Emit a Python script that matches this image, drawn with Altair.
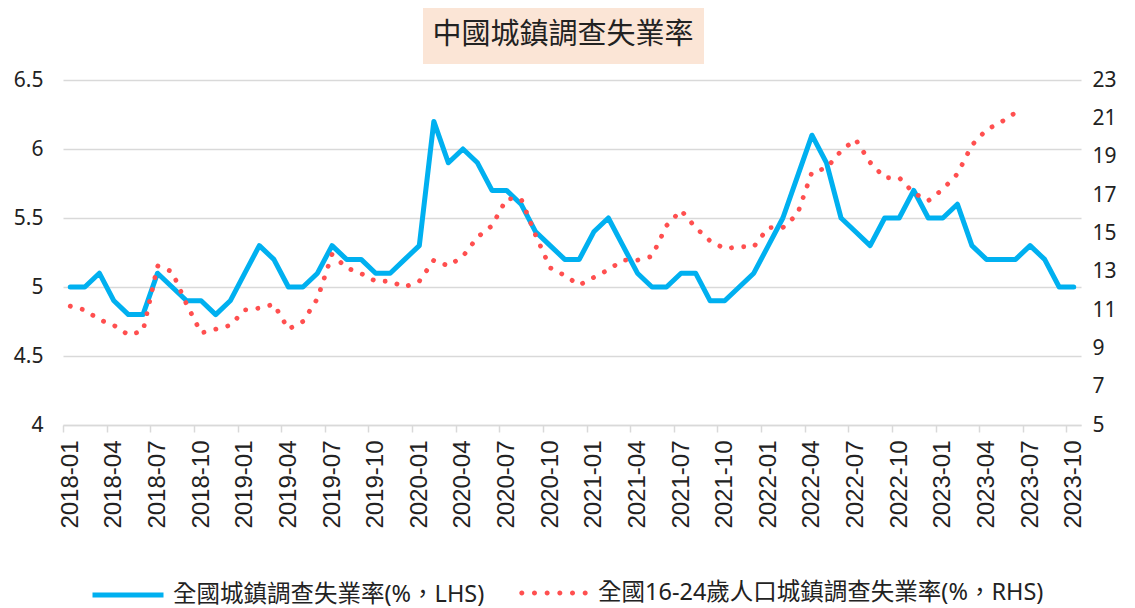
import altair as alt
import pandas as pd

months = [f"{y}-{m:02d}" for y in range(2018, 2024) for m in range(1, 13)][:70]

national = [
    5.0, 5.0, 5.1, 4.9, 4.8, 4.8, 5.1, 5.0, 4.9, 4.9, 4.8, 4.9,
    5.1, 5.3, 5.2, 5.0, 5.0, 5.1, 5.3, 5.2, 5.2, 5.1, 5.1, 5.2,
    5.3, 6.2, 5.9, 6.0, 5.9, 5.7, 5.7, 5.6, 5.4, 5.3, 5.2, 5.2,
    5.4, 5.5, 5.3, 5.1, 5.0, 5.0, 5.1, 5.1, 4.9, 4.9, 5.0, 5.1,
    5.3, 5.5, 5.8, 6.1, 5.9, 5.5, 5.4, 5.3, 5.5, 5.5, 5.7, 5.5,
    5.5, 5.6, 5.3, 5.2, 5.2, 5.2, 5.3, 5.2, 5.0, 5.0,
]

youth = [
    11.2, 11.0, 10.5, 10.2, 9.7, 9.9, 13.3, 13.0, 11.3, 9.8, 10.0, 10.2,
    11.0, 11.1, 11.3, 10.0, 10.4, 11.6, 13.9, 13.2, 12.9, 12.5, 12.5, 12.2,
    12.5, 13.6, 13.3, 13.8, 14.8, 15.4, 16.8, 16.8, 14.9, 13.2, 12.8, 12.3,
    12.7, 13.1, 13.6, 13.6, 13.8, 15.4, 16.2, 15.3, 14.6, 14.2, 14.3, 14.3,
    15.3, 15.3, 16.0, 18.2, 18.4, 19.3, 19.9, 18.7, 17.9, 17.9, 17.1, 16.7,
    17.3, 18.1, 19.6, 20.4, 20.8, 21.3, None, None, None, None,
]

tick_months = months[::3]
left_ticks = [4, 4.5, 5, 5.5, 6, 6.5]
right_ticks = [5, 7, 9, 11, 13, 15, 17, 19, 21, 23]

title_text = "中國城鎮調查失業率"
s1 = "全國城鎮調查失業率(%，LHS)"
s2 = "全國16-24歲人口城鎮調查失業率(%，RHS)"

rows = []
for m, v in zip(months, national):
    rows.append({"month": m, "series": s1, "value": v})
for m, v in zip(months, youth):
    if v is not None:
        rows.append({"month": m, "series": s2, "value": v})
df = pd.DataFrame(rows)

W, H = 1018, 345
step = W / len(months)
FONT = "Noto Sans, Noto Sans CJK TC"
XFONT = "Liberation Sans, Arial"
TXT = "#222222"
GRID = "#D9D9D9"
BLUE = "#00B0F0"
RED = "#FF4F4F"

# legend glyph for the dotted series: six small filled circles in a row
r = 0.067
dot_path = "".join(
    f"M{cx - r:.3f},0a{r},{r} 0 1,0 {2 * r:.3f},0a{r},{r} 0 1,0 {-2 * r:.3f},0Z"
    for cx in [-0.845, -0.507, -0.169, 0.169, 0.507, 0.845]
)

common_leg = dict(
    orient="none", direction="horizontal", title=None,
    labelFont=FONT, labelFontSize=23.5, labelColor=TXT,
    labelLimit=800, padding=0,
)
legend_blue = alt.Legend(legendX=27, legendY=477, symbolType="stroke", symbolSize=5041,
                         symbolStrokeWidth=5, labelOffset=7, **common_leg)
legend_red = alt.Legend(legendX=453, legendY=475.5, symbolType=dot_path, symbolSize=5625,
                        symbolOpacity=1, symbolStrokeWidth=0, labelOffset=7, **common_leg)

x = alt.X(
    "month:O",
    scale=alt.Scale(type="point", padding=0.5),
    axis=alt.Axis(
        values=tick_months, title=None, labelAngle=-90,
        tickOffset=-step / 2, labelOffset=step / 2,
        labelFont=XFONT, labelFontSize=24, labelColor=TXT, labelPadding=8,
        tickColor=GRID, tickSize=7, tickWidth=1.5,
        domainColor=GRID, domainWidth=1.5, grid=False,
    ),
)

blue = alt.Chart(df).transform_filter(alt.datum.series == s1).mark_line(
    strokeWidth=5, strokeJoin="round", strokeCap="round"
).encode(
    x=x,
    y=alt.Y("value:Q", scale=alt.Scale(domain=[4, 6.5], nice=False, zero=False),
            axis=alt.Axis(orient="left", values=left_ticks, title=None, format="~g",
                          labelFont=FONT, labelFontSize=21, labelColor=TXT, labelPadding=20,
                          domain=False, ticks=False, grid=True, gridColor=GRID, gridWidth=1.5)),
    color=alt.Color("series:N", scale=alt.Scale(domain=[s1], range=[BLUE]), legend=legend_blue),
)

red = alt.Chart(df).transform_filter(alt.datum.series == s2).mark_line(
    color=RED, strokeWidth=4.8, strokeCap="round", strokeJoin="round", strokeDash=[0.1, 12.2]
).encode(
    x=x,
    y=alt.Y("value:Q", scale=alt.Scale(domain=[5, 23], nice=False, zero=False),
            axis=alt.Axis(orient="right", values=right_ticks, title=None,
                          labelFont=FONT, labelFontSize=21, labelColor=TXT, labelPadding=11,
                          domain=False, ticks=False, grid=False)),
)

# invisible filled-point layer that only supplies the dotted series' legend entry
red_key = alt.Chart(df).transform_filter(alt.datum.series == s2).mark_point(
    filled=True, size=0, opacity=0
).encode(
    x=alt.value(0), y=alt.value(0),
    fill=alt.Fill("series:N", scale=alt.Scale(domain=[s2], range=[RED]), legend=legend_red),
)

tdf = pd.DataFrame({"t": [title_text]})
box = alt.Chart(tdf).mark_rect(color="#FBE5D6").encode(
    x=alt.value(360), x2=alt.value(641), y=alt.value(-74), y2=alt.value(-16)
)
ttl = alt.Chart(tdf).mark_text(font=FONT, fontSize=29, color=TXT, align="center", baseline="middle").encode(
    x=alt.value(500), y=alt.value(-45), text="t:N"
)

chart = alt.layer(box, ttl, blue, red, red_key).resolve_scale(y="independent").properties(
    width=W, height=H,
    autosize=alt.AutoSizeParams(type="none"),
    padding={"left": 55, "top": 72, "right": 46, "bottom": 183},
).configure_view(strokeWidth=0)

chart.save("out.html", embed_options={"renderer": "svg", "actions": False})
